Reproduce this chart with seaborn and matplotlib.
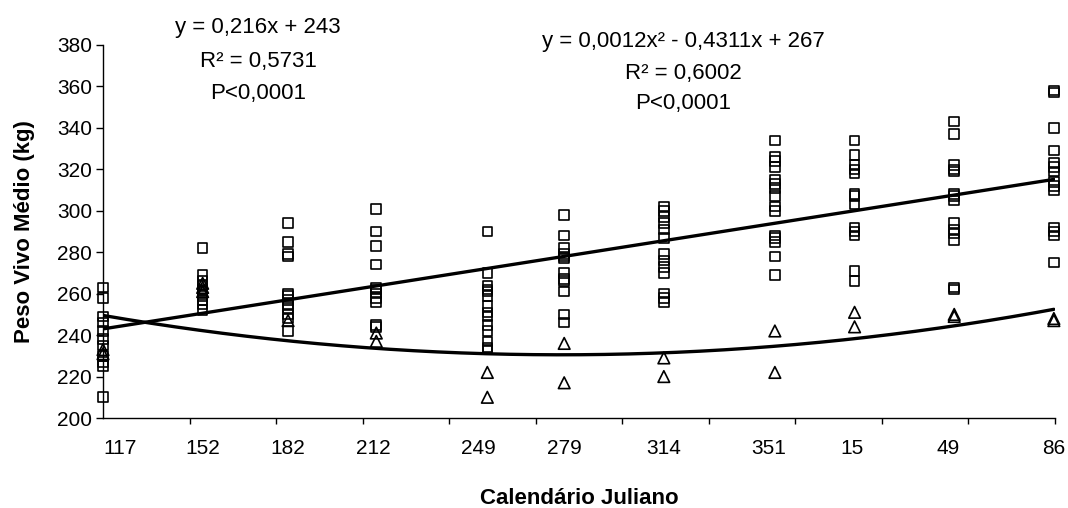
import matplotlib
matplotlib.use('Agg')
import matplotlib.pyplot as plt
import numpy as np
import pandas as pd
import seaborn as sns

sns.set_style('ticks')
plt.rcParams['font.family'] = ['Liberation Sans', 'DejaVu Sans']
plt.rcParams.update({
    'text.color': 'black', 'axes.edgecolor': 'black', 'axes.labelcolor': 'black',
    'xtick.color': 'black', 'ytick.color': 'black',
})

# ── eixo x: dias julianos dos rotulos ──
ROTULOS = ['117', '152', '182', '212', '249', '279', '314', '351', '15', '49', '86']
DIAS_ROTULO = [117, 152, 182, 212, 249, 279, 314, 351, 15, 49, 86]
# dias (desde o dia 117) em que os pontos estao desenhados
DIAS_PESAGEM = [0, 35, 65, 96, 135, 162, 197, 236, 264, 299, 334]

# ── pesos (kg) ──
QUADRADOS = [
    [263, 258, 249, 246, 242, 238, 235, 230, 227, 225, 210],
    [282, 269, 266, 264, 262, 261, 259, 257, 255, 252],
    [294, 285, 279, 278, 260, 259, 257, 255, 253, 250, 248, 242],
    [301, 290, 283, 274, 263, 262, 260, 258, 256, 245, 244],
    [290, 270, 264, 262, 261, 259, 254, 251, 249, 245, 242, 237, 234, 233],
    [298, 288, 282, 279, 278, 277, 270, 267, 266, 261, 250, 246],
    [302, 300, 297, 294, 291, 287, 279, 276, 273, 270, 260, 258, 256],
    [334, 326, 324, 321, 315, 313, 311, 307, 302, 300, 288, 287, 285, 278, 269],
    [334, 327, 322, 320, 318, 308, 307, 303, 292, 290, 288, 271, 266],
    [343, 337, 322, 320, 319, 308, 307, 305, 294, 291, 289, 286, 263, 262],
    [358, 357, 340, 329, 323, 321, 319, 314, 312, 310, 292, 290, 288, 275],
]
TRIANGULOS = [
    [233, 231],
    [265, 263, 261],
    [247],
    [241, 237],
    [222, 210],
    [236, 217],
    [229, 220],
    [242, 222],
    [251, 244],
    [250, 249],
    [248, 247],
]

# ── linhas de tendencia (como desenhadas) ──
COEF_LIN = [0.216, 243]
COEF_QUAD = [0.000733, -0.236, 249.5]

sq = pd.DataFrame([(d, p) for d, ps in zip(DIAS_PESAGEM, QUADRADOS) for p in ps],
                  columns=['dia', 'peso'])
tri = pd.DataFrame([(d, p) for d, ps in zip(DIAS_PESAGEM, TRIANGULOS) for p in ps],
                   columns=['dia', 'peso'])
grade = np.linspace(0, 334, 200)

fig = plt.figure(figsize=(10.68, 5.08), dpi=100)
ax = fig.add_axes([103 / 1068, 1 - 418 / 508, 952 / 1068, 373 / 508])

sns.lineplot(x=grade, y=np.polyval(COEF_LIN, grade), color='black', linewidth=2.4, ax=ax)
sns.lineplot(x=grade, y=np.polyval(COEF_QUAD, grade), color='black', linewidth=2.4, ax=ax)
sns.scatterplot(data=sq, x='dia', y='peso', marker='s', s=48, facecolors='none',
                edgecolor='black', linewidth=1.2, clip_on=False, zorder=3, ax=ax)
sns.scatterplot(data=tri, x='dia', y='peso', marker='^', s=70, facecolors='none',
                edgecolor='black', linewidth=1.2, clip_on=False, zorder=3, ax=ax)

ax.set_xlim(0, 334.4)
ax.set_ylim(200, 380)
ax.set_yticks(range(200, 381, 20))
pos = [(d - 117) % 365 for d in DIAS_ROTULO]
ax.set_xticks(pos)
ax.set_xticklabels(ROTULOS)
ax.get_xticklabels()[0].set_horizontalalignment('left')
ax.set_xticks(np.linspace(0, 334.4, 12), minor=True)
ax.tick_params(axis='x', which='major', length=0, pad=15, labelsize=15)
ax.tick_params(axis='x', which='minor', length=4, width=1, direction='out')
ax.tick_params(axis='y', length=5, width=1, direction='out', pad=3, labelsize=15)
sns.despine(ax=ax)
for s in ['left', 'bottom']:
    ax.spines[s].set_linewidth(1)

ax.set_xlabel('Calendário Juliano', fontsize=16, fontweight='bold', labelpad=22)
ax.set_ylabel('Peso Vivo Médio (kg)', fontsize=16, fontweight='bold', labelpad=16)

kw = dict(ha='center', va='center', fontsize=16)
fig.text(258 / 1068, 1 - 28 / 508, 'y = 0,216x + 243', **kw)
fig.text(258 / 1068, 1 - 61 / 508, 'R² = 0,5731', **kw)
fig.text(258 / 1068, 1 - 94 / 508, 'P<0,0001', **kw)
fig.text(683 / 1068, 1 - 41 / 508, 'y = 0,0012x² - 0,4311x + 267', **kw)
fig.text(683 / 1068, 1 - 74 / 508, 'R² = 0,6002', **kw)
fig.text(683 / 1068, 1 - 103 / 508, 'P<0,0001', **kw)

fig.savefig('out.png', dpi=100, facecolor='white')
